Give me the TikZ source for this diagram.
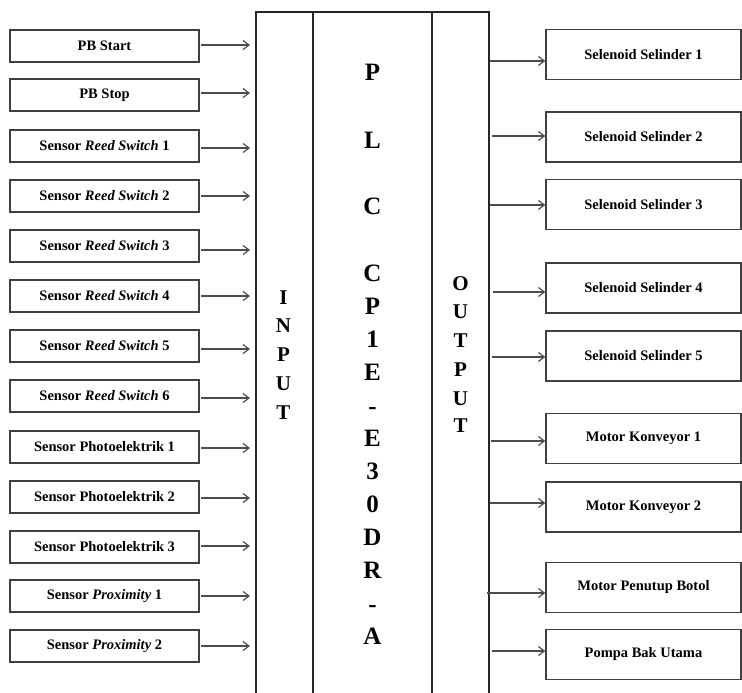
\documentclass[tikz,border=0pt]{standalone}
\usepackage{fontspec}
\setmainfont{Liberation Serif}
\usetikzlibrary{arrows.meta}

\begin{document}
\begin{tikzpicture}[x=1pt, y=-1pt,
    every node/.style={font=\bfseries\fontsize{14.5}{17}\selectfont, inner sep=0pt},
    inbox/.style={draw=black!75, line width=1.2pt, minimum width=189pt, minimum height=32pt},
    outbox/.style={draw=black!75, line width=1.2pt, minimum width=195pt, minimum height=50pt},
    arr/.style={-{Straight Barb[length=6pt, width=9pt]}, draw=black!70, line width=1.2pt},
    bigletter/.style={anchor=base, font=\bfseries\fontsize{25}{25}\selectfont},
    midletter/.style={anchor=base, font=\bfseries\fontsize{21}{21}\selectfont}]

        \useasboundingbox (0,0) rectangle (742,693);

        % PLC block
        \draw[line width=1.2pt, black!85] (256,693) -- (256,12) -- (489,12) -- (489,693);
        \draw[line width=1.2pt, black!85] (313,12) -- (313,693);
        \draw[line width=1.2pt, black!85] (432,12) -- (432,693);

        \foreach \y/\l [count=\k] in {81/P, 148/L, 214/C, 281/C, 314/P, 347/1, 380/E, 414/-,
                                      446/E, 479/3, 512/0, 545/D, 578/R, 612/-, 644/A} {
            \node[bigletter] (plc\k) at (372.5,\y) {\l};
        }
        \foreach \y/\l [count=\k] in {304/I, 332/N, 361/P, 390/U, 419/T} {
            \node[midletter] (inp\k) at (283.5,\y) {\l};
        }
        \foreach \y/\l [count=\k] in {290/O, 318/U, 347/T, 376/P, 405/U, 432/T} {
            \node[midletter] (outp\k) at (460.5,\y) {\l};
        }

        % Inputs
        \foreach \i/\y/\ay/\txt in {1/46/45/PB Start, 2/95/93/PB Stop,
                3/146/148/Sensor \textit{Reed Switch} 1, 4/196/196/Sensor \textit{Reed Switch} 2,
                5/246/250/Sensor \textit{Reed Switch} 3, 6/296/296/Sensor \textit{Reed Switch} 4,
                7/346/349/Sensor \textit{Reed Switch} 5, 8/396/398/Sensor \textit{Reed Switch} 6,
                9/447/448/Sensor Photoelektrik 1, 10/497/498/Sensor Photoelektrik 2,
                11/547/546/Sensor Photoelektrik 3, 12/596/596/Sensor \textit{Proximity} 1,
                13/646/646/Sensor \textit{Proximity} 2} {
            \node[inbox] (in\i) at (104.5,\y) {\txt};
            \coordinate (ia\i) at (250,\ay);
            \draw[arr] (in\i.east |- ia\i) ++(1.5,0) -- (ia\i);
        }

        % Outputs
        \foreach \i/\y/\sx/\ay/\txt in {1/54.5/490/61/Selenoid Selinder 1,
                2/137/492/136/Selenoid Selinder 2, 3/204.5/490/205/Selenoid Selinder 3,
                4/288/493/292/Selenoid Selinder 4, 5/356/492/357/Selenoid Selinder 5,
                6/438.5/491/441/Motor Konveyor 1, 7/507/490/503/Motor Konveyor 2,
                8/587.5/487/593/Motor Penutup Botol, 9/654.5/492/651/Pompa Bak Utama} {
            \node[outbox] (out\i) at (643.5,\y) {\txt};
            \coordinate (oa\i) at (\sx,\ay);
            \draw[arr] (oa\i) -- (oa\i -| out\i.west);
        }

\end{tikzpicture}
\end{document}
